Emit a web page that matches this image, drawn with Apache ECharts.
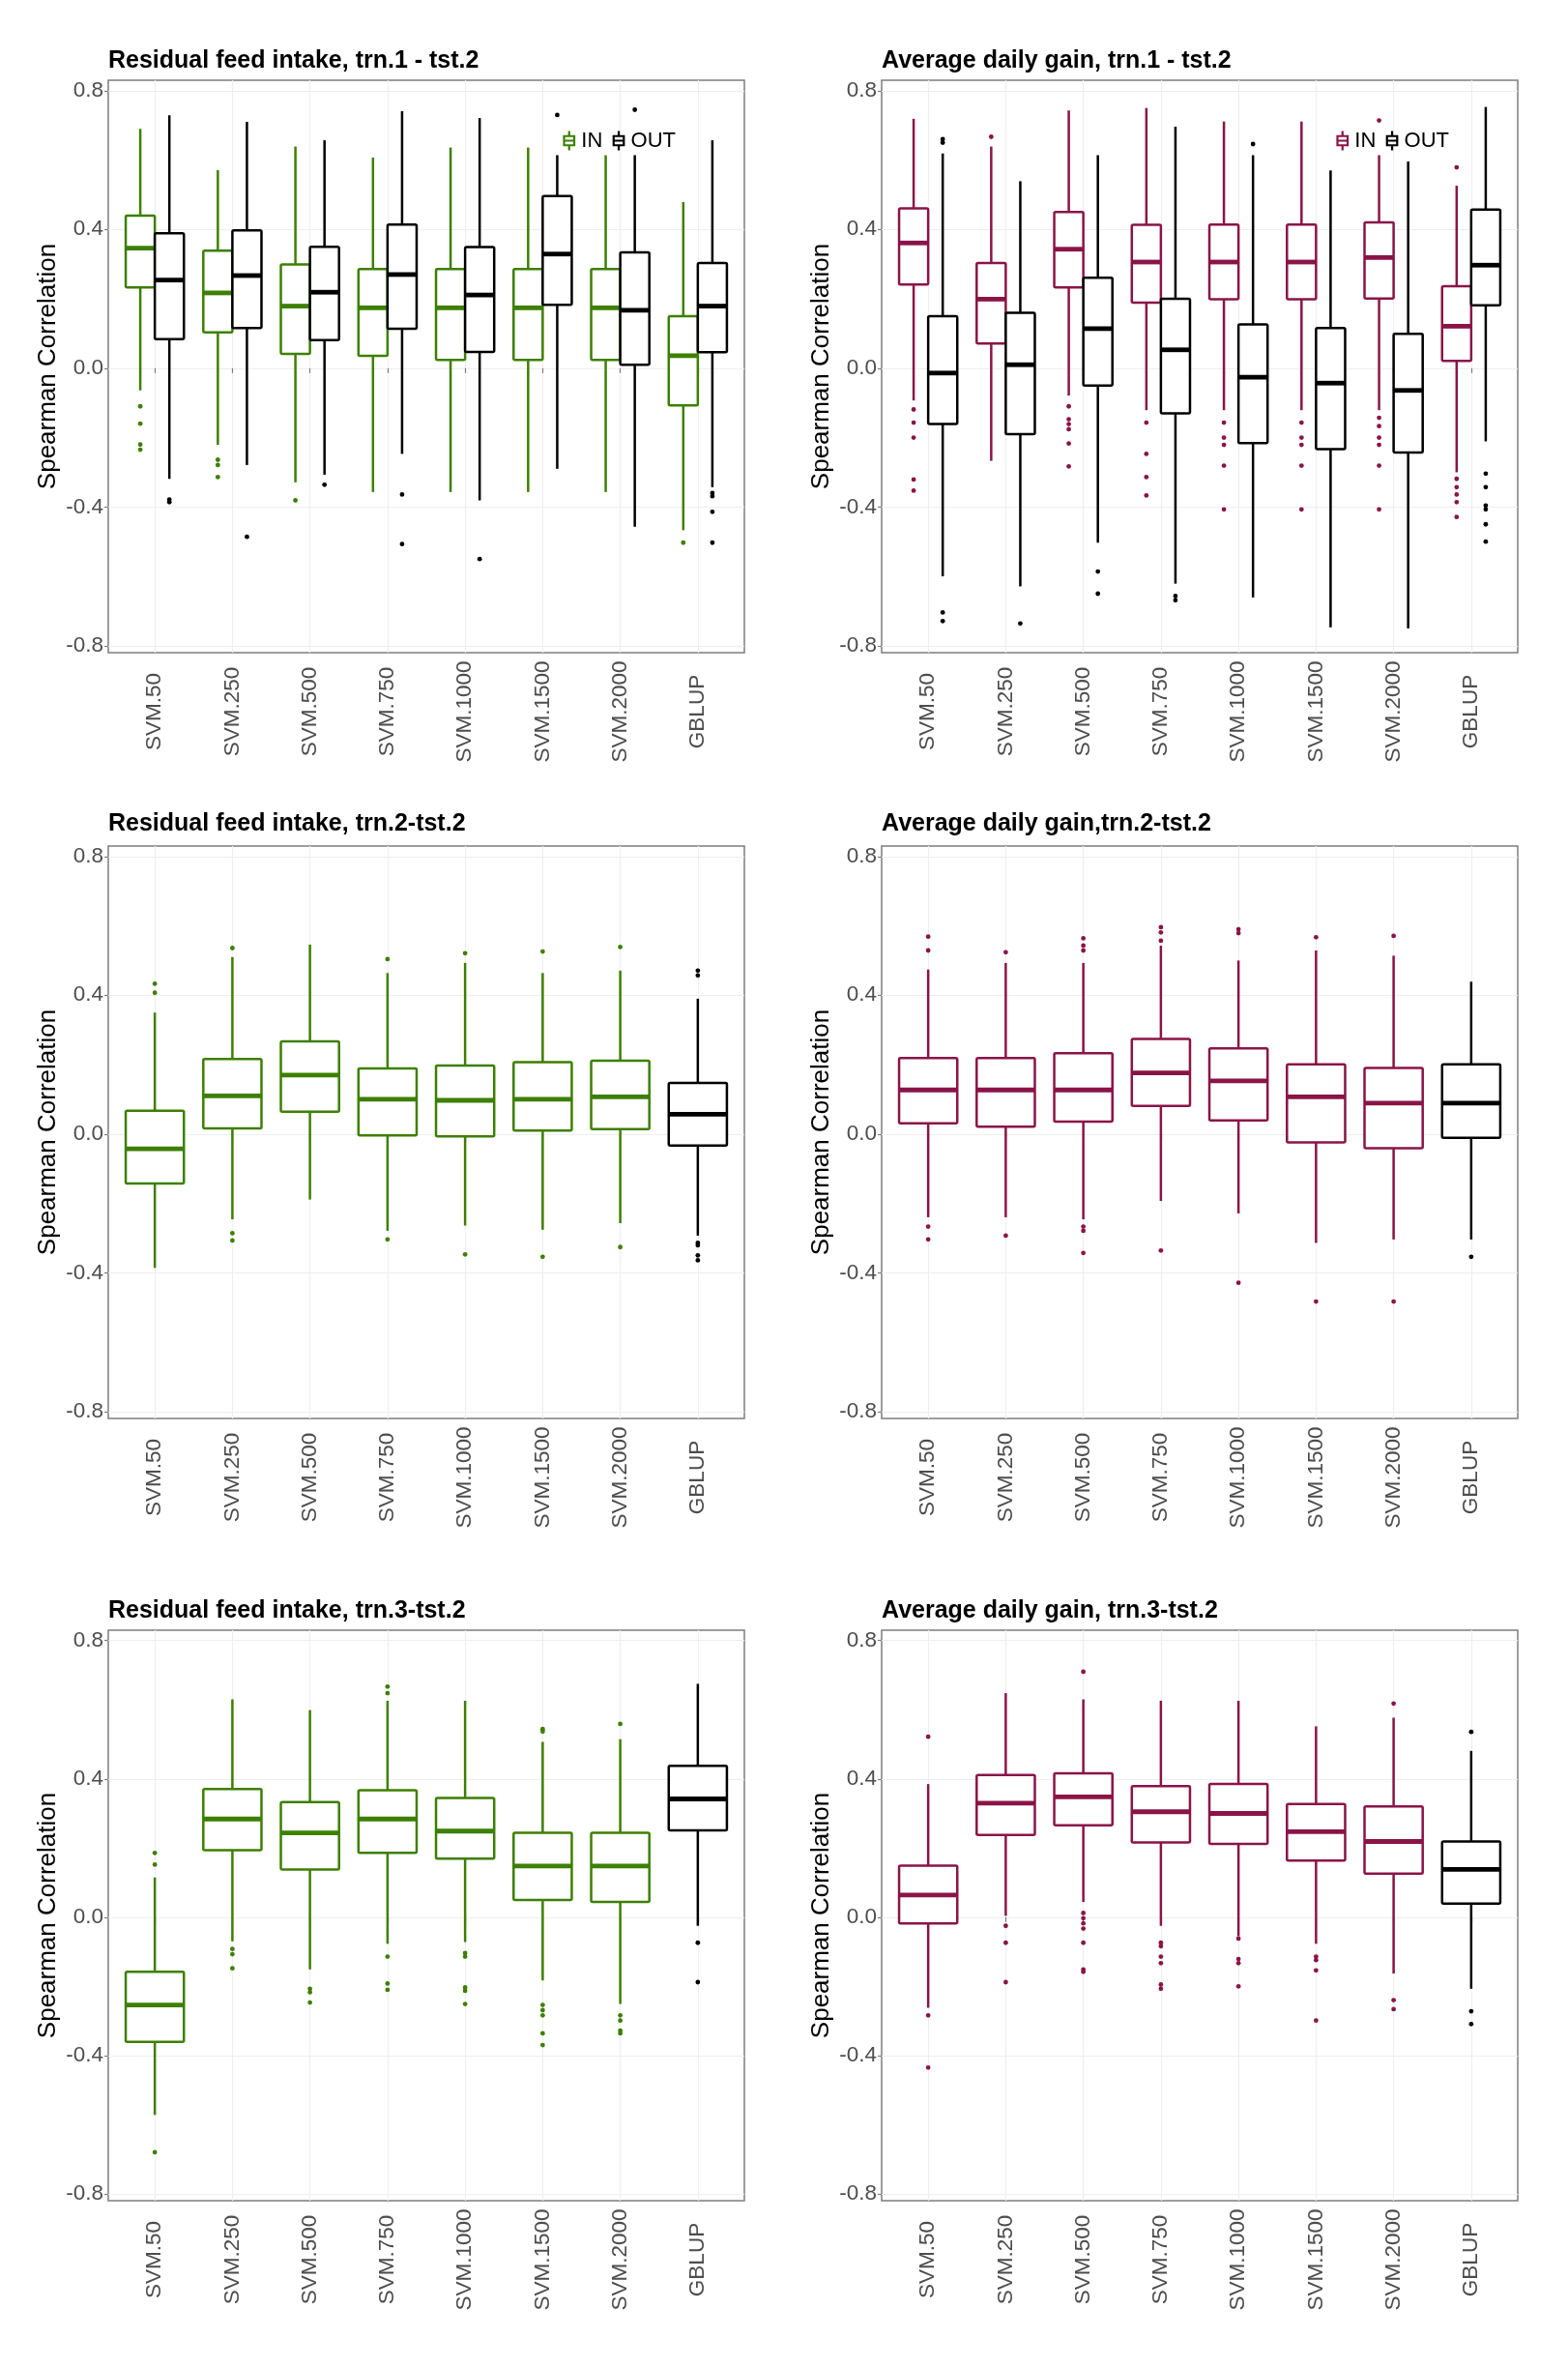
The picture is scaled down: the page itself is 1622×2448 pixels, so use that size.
<!DOCTYPE html>
<html>
<head>
<meta charset="utf-8">
<script src="https://cdn.jsdelivr.net/npm/echarts@6/dist/echarts.min.js"></script>
<style>
html,body{margin:0;padding:0;background:#ffffff;}
#chart{width:1622px;height:2448px;}
</style>
</head>
<body>
<div id="chart"></div>
<script>
// ---------------- DATA ----------------
const categories = ['SVM.50','SVM.250','SVM.500','SVM.750','SVM.1000','SVM.1500','SVM.2000','GBLUP'];
const yTickValues = [-0.8, -0.4, 0, 0.4, 0.8];
const legendNames = ['IN', 'OUT'];

// box stats per category: [lower whisker, Q1, median, Q3, upper whisker]
const rfi1In = [
  [-0.064, 0.233, 0.346, 0.440, 0.690],
  [-0.221, 0.103, 0.217, 0.339, 0.571],
  [-0.329, 0.041, 0.179, 0.299, 0.639],
  [-0.357, 0.036, 0.174, 0.286, 0.607],
  [-0.357, 0.024, 0.174, 0.286, 0.636],
  [-0.357, 0.024, 0.174, 0.286, 0.636],
  [-0.357, 0.024, 0.174, 0.286, 0.614],
  [-0.467, -0.107, 0.036, 0.150, 0.479]
];
const rfi1Out = [
  [-0.319, 0.084, 0.254, 0.389, 0.729],
  [-0.279, 0.116, 0.267, 0.397, 0.710],
  [-0.307, 0.081, 0.219, 0.350, 0.657],
  [-0.247, 0.114, 0.270, 0.414, 0.741],
  [-0.381, 0.047, 0.211, 0.349, 0.721],
  [-0.290, 0.183, 0.329, 0.496, 0.614],
  [-0.457, 0.010, 0.167, 0.334, 0.614],
  [-0.343, 0.046, 0.179, 0.303, 0.657]
];
const rfi1InOutliers = [
  ['SVM.50',-0.110],['SVM.50',-0.160],['SVM.50',-0.220],['SVM.50',-0.235],
  ['SVM.250',-0.264],['SVM.250',-0.279],['SVM.250',-0.314],
  ['SVM.500',-0.381],['GBLUP',-0.503]
];
const rfi1OutOutliers = [
  ['SVM.50',-0.379],['SVM.50',-0.386],['SVM.250',-0.486],['SVM.500',-0.336],
  ['SVM.750',-0.364],['SVM.750',-0.507],['SVM.1000',-0.550],
  ['SVM.1500',0.730],['SVM.2000',0.745],
  ['GBLUP',-0.360],['GBLUP',-0.369],['GBLUP',-0.414],['GBLUP',-0.503]
];

const adg1In = [
  [-0.093, 0.241, 0.361, 0.461, 0.719],
  [-0.267, 0.071, 0.199, 0.303, 0.639],
  [-0.079, 0.233, 0.343, 0.450, 0.743],
  [-0.121, 0.189, 0.306, 0.413, 0.750],
  [-0.121, 0.199, 0.306, 0.414, 0.711],
  [-0.121, 0.199, 0.306, 0.414, 0.711],
  [-0.121, 0.201, 0.319, 0.420, 0.614],
  [-0.300, 0.021, 0.121, 0.236, 0.526]
];
const adg1Out = [
  [-0.600, -0.161, -0.014, 0.150, 0.619],
  [-0.629, -0.190, 0.010, 0.160, 0.539],
  [-0.503, -0.050, 0.114, 0.261, 0.614],
  [-0.621, -0.130, 0.053, 0.200, 0.696],
  [-0.661, -0.216, -0.026, 0.126, 0.614],
  [-0.747, -0.233, -0.043, 0.116, 0.570],
  [-0.750, -0.243, -0.064, 0.099, 0.596],
  [-0.211, 0.181, 0.297, 0.457, 0.753]
];
const adg1InOutliers = [
  ['SVM.50',-0.119],['SVM.50',-0.157],['SVM.50',-0.200],['SVM.50',-0.321],['SVM.50',-0.353],
  ['SVM.250',0.667],
  ['SVM.500',-0.110],['SVM.500',-0.147],['SVM.500',-0.161],['SVM.500',-0.176],['SVM.500',-0.217],['SVM.500',-0.283],
  ['SVM.750',-0.157],['SVM.750',-0.247],['SVM.750',-0.314],['SVM.750',-0.367],
  ['SVM.1000',-0.157],['SVM.1000',-0.200],['SVM.1000',-0.221],['SVM.1000',-0.281],['SVM.1000',-0.407],
  ['SVM.1500',-0.157],['SVM.1500',-0.200],['SVM.1500',-0.221],['SVM.1500',-0.281],['SVM.1500',-0.407],
  ['SVM.2000',0.714],['SVM.2000',-0.143],['SVM.2000',-0.167],['SVM.2000',-0.200],['SVM.2000',-0.221],['SVM.2000',-0.281],['SVM.2000',-0.407],
  ['GBLUP',0.579],['GBLUP',-0.319],['GBLUP',-0.343],['GBLUP',-0.364],['GBLUP',-0.386],['GBLUP',-0.429]
];
const adg1OutOutliers = [
  ['SVM.50',0.660],['SVM.50',0.650],['SVM.50',-0.704],['SVM.50',-0.729],
  ['SVM.250',-0.736],
  ['SVM.500',-0.586],['SVM.500',-0.650],
  ['SVM.750',-0.657],['SVM.750',-0.669],
  ['SVM.1000',0.646],
  ['GBLUP',-0.304],['GBLUP',-0.343],['GBLUP',-0.396],['GBLUP',-0.407],['GBLUP',-0.450],['GBLUP',-0.500]
];

const rfi2 = [
  [-0.386, -0.143, -0.043, 0.067, 0.350],
  [-0.246, 0.016, 0.110, 0.216, 0.510],
  [-0.189, 0.064, 0.170, 0.267, 0.546],
  [-0.279, -0.004, 0.100, 0.189, 0.464],
  [-0.264, -0.007, 0.097, 0.197, 0.493],
  [-0.276, 0.010, 0.100, 0.207, 0.464],
  [-0.257, 0.014, 0.107, 0.211, 0.471],
  [-0.293, -0.033, 0.057, 0.147, 0.390]
];
const rfi2Outliers = [
  ['SVM.50',0.433],['SVM.50',0.407],
  ['SVM.250',0.536],['SVM.250',-0.286],['SVM.250',-0.307],
  ['SVM.750',0.504],['SVM.750',-0.304],
  ['SVM.1000',0.521],['SVM.1000',-0.347],
  ['SVM.1500',0.526],['SVM.1500',-0.354],
  ['SVM.2000',0.539],['SVM.2000',-0.326],
  ['GBLUP',0.471],['GBLUP',0.457],['GBLUP',-0.314],['GBLUP',-0.321],['GBLUP',-0.350],['GBLUP',-0.364]
];

const adg2 = [
  [-0.240, 0.031, 0.127, 0.219, 0.474],
  [-0.240, 0.021, 0.127, 0.219, 0.493],
  [-0.246, 0.036, 0.127, 0.233, 0.493],
  [-0.193, 0.081, 0.176, 0.274, 0.543],
  [-0.229, 0.039, 0.153, 0.247, 0.500],
  [-0.314, -0.024, 0.107, 0.201, 0.529],
  [-0.304, -0.041, 0.089, 0.190, 0.514],
  [-0.304, -0.011, 0.089, 0.201, 0.439]
];
const adg2Outliers = [
  ['SVM.50',0.569],['SVM.50',0.529],['SVM.50',-0.267],['SVM.50',-0.304],
  ['SVM.250',0.524],['SVM.250',-0.293],
  ['SVM.500',0.564],['SVM.500',0.543],['SVM.500',0.529],['SVM.500',-0.267],['SVM.500',-0.279],['SVM.500',-0.343],
  ['SVM.750',0.596],['SVM.750',0.581],['SVM.750',0.557],['SVM.750',-0.336],
  ['SVM.1000',0.590],['SVM.1000',0.579],['SVM.1000',-0.429],
  ['SVM.1500',0.567],['SVM.1500',-0.483],
  ['SVM.2000',0.571],['SVM.2000',-0.483],
  ['GBLUP',-0.354]
];

const rfi3 = [
  [-0.572, -0.361, -0.254, -0.158, 0.115],
  [-0.070, 0.194, 0.284, 0.371, 0.630],
  [-0.151, 0.138, 0.244, 0.333, 0.599],
  [-0.077, 0.186, 0.284, 0.367, 0.626],
  [-0.072, 0.169, 0.249, 0.345, 0.626],
  [-0.183, 0.050, 0.148, 0.244, 0.507],
  [-0.251, 0.044, 0.148, 0.244, 0.515],
  [-0.025, 0.251, 0.342, 0.438, 0.675]
];
const rfi3Outliers = [
  ['SVM.50',0.152],['SVM.50',0.186],['SVM.50',-0.680],
  ['SVM.250',-0.092],['SVM.250',-0.107],['SVM.250',-0.148],
  ['SVM.500',-0.207],['SVM.500',-0.217],['SVM.500',-0.247],
  ['SVM.750',0.667],['SVM.750',0.648],['SVM.750',-0.114],['SVM.750',-0.192],['SVM.750',-0.210],
  ['SVM.1000',-0.104],['SVM.1000',-0.114],['SVM.1000',-0.203],['SVM.1000',-0.213],['SVM.1000',-0.251],
  ['SVM.1500',0.544],['SVM.1500',0.537],['SVM.1500',-0.254],['SVM.1500',-0.269],['SVM.1500',-0.284],['SVM.1500',-0.336],['SVM.1500',-0.370],
  ['SVM.2000',0.559],['SVM.2000',-0.284],['SVM.2000',-0.299],['SVM.2000',-0.328],['SVM.2000',-0.336],
  ['GBLUP',-0.074],['GBLUP',-0.188]
];

const adg3 = [
  [-0.262, -0.018, 0.064, 0.149, 0.385],
  [0.004, 0.238, 0.330, 0.411, 0.648],
  [0.044, 0.266, 0.348, 0.416, 0.630],
  [-0.025, 0.216, 0.305, 0.379, 0.626],
  [-0.055, 0.212, 0.300, 0.385, 0.626],
  [-0.077, 0.164, 0.247, 0.327, 0.552],
  [-0.163, 0.126, 0.219, 0.320, 0.577],
  [-0.207, 0.039, 0.138, 0.219, 0.481]
];
const adg3Outliers = [
  ['SVM.50',0.522],['SVM.50',-0.284],['SVM.50',-0.435],
  ['SVM.250',-0.025],['SVM.250',-0.074],['SVM.250',-0.188],
  ['SVM.500',0.710],['SVM.500',0.012],['SVM.500',-0.003],['SVM.500',-0.018],['SVM.500',-0.033],['SVM.500',-0.074],['SVM.500',-0.151],['SVM.500',-0.158],
  ['SVM.750',-0.074],['SVM.750',-0.084],['SVM.750',-0.114],['SVM.750',-0.133],['SVM.750',-0.195],['SVM.750',-0.207],
  ['SVM.1000',-0.062],['SVM.1000',-0.121],['SVM.1000',-0.133],['SVM.1000',-0.200],
  ['SVM.1500',-0.114],['SVM.1500',-0.124],['SVM.1500',-0.154],['SVM.1500',-0.299],
  ['SVM.2000',0.618],['SVM.2000',-0.240],['SVM.2000',-0.266],
  ['GBLUP',0.536],['GBLUP',-0.272],['GBLUP',-0.309]
];

// ---------------- STYLE / LAYOUT ----------------
const GREEN = '#3d7f00';
const MAROON = '#8a1447';
const BLACK = '#000000';
const FONT = "'Liberation Sans', Arial, Helvetica, sans-serif";
const GBLUP_INDEX = categories.indexOf('GBLUP') + 1;
const byMethod = (c) => (cat) => (cat === GBLUP_INDEX ? BLACK : c);

const LEFT_X = 112, RIGHT_X = 912, PW = 658;
const panels = [
  {title:'Residual feed intake, trn.1 - tst.2', left:LEFT_X, top:83, height:592, titleTop:51,
   groups:[{name:'IN', boxes:rfi1In, outliers:rfi1InOutliers, color:GREEN, offset:-0.1875, width:0.375},
           {name:'OUT', boxes:rfi1Out, outliers:rfi1OutOutliers, color:BLACK, offset:0.1875, width:0.375}],
   legend:{left:581, top:133, inColor:GREEN}},
  {title:'Average daily gain, trn.1 - tst.2', left:RIGHT_X, top:83, height:592, titleTop:51,
   groups:[{name:'IN', boxes:adg1In, outliers:adg1InOutliers, color:MAROON, offset:-0.1875, width:0.375},
           {name:'OUT', boxes:adg1Out, outliers:adg1OutOutliers, color:BLACK, offset:0.1875, width:0.375}],
   legend:{left:1381, top:133, inColor:MAROON}},
  {title:'Residual feed intake, trn.2-tst.2', left:LEFT_X, top:875, height:592, titleTop:840,
   groups:[{name:'rfi2', boxes:rfi2, outliers:rfi2Outliers, color:byMethod(GREEN), offset:0, width:0.75}]},
  {title:'Average daily gain,trn.2-tst.2', left:RIGHT_X, top:875, height:592, titleTop:840,
   groups:[{name:'adg2', boxes:adg2, outliers:adg2Outliers, color:byMethod(MAROON), offset:0, width:0.75}]},
  {title:'Residual feed intake, trn.3-tst.2', left:LEFT_X, top:1686, height:590, titleTop:1654,
   groups:[{name:'rfi3', boxes:rfi3, outliers:rfi3Outliers, color:byMethod(GREEN), offset:0, width:0.75}]},
  {title:'Average daily gain, trn.3-tst.2', left:RIGHT_X, top:1686, height:590, titleTop:1654,
   groups:[{name:'adg3', boxes:adg3, outliers:adg3Outliers, color:byMethod(MAROON), offset:0, width:0.75}]}
];

function colorOf(group, cat) {
  return typeof group.color === 'function' ? group.color(cat) : group.color;
}

function boxRenderer(group) {
  return function (params, api) {
    const cat = api.value(0);
    const x = cat + group.offset;
    const color = colorOf(group, cat);
    const pLow = api.coord([x, api.value(1)]);
    const pQ1 = api.coord([x, api.value(2)]);
    const pMed = api.coord([x, api.value(3)]);
    const pQ3 = api.coord([x, api.value(4)]);
    const pHigh = api.coord([x, api.value(5)]);
    const half = api.size([group.width, 0])[0] / 2;
    const lw = 2.5;
    return {
      type: 'group',
      children: [
        {type:'line', shape:{x1:pLow[0], y1:pLow[1], x2:pQ1[0], y2:pQ1[1]}, style:{stroke:color, lineWidth:lw}},
        {type:'line', shape:{x1:pQ3[0], y1:pQ3[1], x2:pHigh[0], y2:pHigh[1]}, style:{stroke:color, lineWidth:lw}},
        {type:'rect', shape:{x:pQ1[0]-half, y:pQ3[1], width:2*half, height:pQ1[1]-pQ3[1], r:1.5},
         style:{fill:'#ffffff', stroke:color, lineWidth:lw}},
        {type:'line', shape:{x1:pMed[0]-half, y1:pMed[1], x2:pMed[0]+half, y2:pMed[1]}, style:{stroke:color, lineWidth:4.8}}
      ]
    };
  };
}

function outlierRenderer(group) {
  return function (params, api) {
    const cat = api.value(0);
    const p = api.coord([cat + group.offset, api.value(1)]);
    return {type:'circle', shape:{cx:p[0], cy:p[1], r:2.4}, style:{fill:colorOf(group, cat)}};
  };
}

const catValues = categories.map((c, i) => i + 1);

const option = {
  animation: false,
  backgroundColor: '#ffffff',
  textStyle: {fontFamily: FONT},
  title: panels.map(p => ({
    text: p.title, left: p.left, top: p.titleTop, padding: 0,
    textStyle: {fontSize: 25, fontWeight: 'bold', color: '#000', fontFamily: FONT}
  })),
  legend: panels.filter(p => p.legend).map(p => ({
    left: p.legend.left, top: p.legend.top, orient: 'horizontal', padding: 0,
    itemWidth: 11, itemHeight: 20, itemGap: 9, selectedMode: false,
    textStyle: {fontSize: 22, color: '#000', fontFamily: FONT, padding: [0, 0, 0, 2]},
    data: legendNames.map((n, k) => ({
      name: n,
      icon: 'path://M5,0L5,5M0,5L10,5L10,14L0,14ZM0,9.5L10,9.5M5,14L5,19',
      itemStyle: {color: 'none', borderColor: k === 0 ? p.legend.inColor : BLACK, borderWidth: 2.2}
    }))
  })),
  grid: panels.map(p => ({
    left: p.left, top: p.top, width: PW, height: p.height,
    show: true, borderColor: '#7d7d7d', borderWidth: 1.5, backgroundColor: '#ffffff'
  })),
  xAxis: panels.map((p, i) => ({
    gridIndex: i, type: 'value', min: 0.4, max: 8.6,
    axisLine: {show: false},
    axisTick: {show: true, customValues: catValues, length: 5, lineStyle: {color: '#7d7d7d', width: 1.2}},
    axisLabel: {
      customValues: catValues, rotate: 90, align: 'center', verticalAlign: 'middle', margin: 61,
      fontSize: 22.5, color: '#4d4d4d', fontFamily: FONT,
      formatter: v => categories[Math.round(v) - 1] || ''
    },
    splitLine: {show: true, lineStyle: {color: '#eeeeee', width: 1.2}}
  })),
  yAxis: panels.map((p, i) => ({
    gridIndex: i, type: 'value', min: -0.82, max: 0.83,
    axisLine: {show: false},
    axisTick: {show: true, customValues: yTickValues, length: 4, lineStyle: {color: '#7d7d7d', width: 1.2}},
    axisLabel: {
      customValues: yTickValues, fontSize: 22.5, color: '#4d4d4d', fontFamily: FONT, margin: 5,
      formatter: v => (Math.abs(v) < 1e-9 ? '0.0' : v.toFixed(1))
    },
    splitLine: {show: true, lineStyle: {color: '#eeeeee', width: 1.2}},
    name: 'Spearman Correlation', nameLocation: 'middle', nameGap: 49,
    nameTextStyle: {fontSize: 26, color: '#000', fontFamily: FONT}
  })),
  series: []
};

panels.forEach((p, i) => {
  p.groups.forEach(g => {
    option.series.push({
      type: 'custom', name: g.name, xAxisIndex: i, yAxisIndex: i,
      encode: {x: 0, y: [1, 2, 3, 4, 5]},
      data: g.boxes.map((b, k) => [k + 1].concat(b)),
      renderItem: boxRenderer(g),
      z: 3
    });
    option.series.push({
      type: 'custom', name: g.name + ' outliers', xAxisIndex: i, yAxisIndex: i,
      encode: {x: 0, y: 1},
      data: g.outliers.map(o => [categories.indexOf(o[0]) + 1, o[1]]),
      renderItem: outlierRenderer(g),
      z: 4
    });
  });
});

const chart = echarts.init(document.getElementById('chart'), null, {renderer: 'canvas'});
chart.setOption(option);
</script>
</body>
</html>
